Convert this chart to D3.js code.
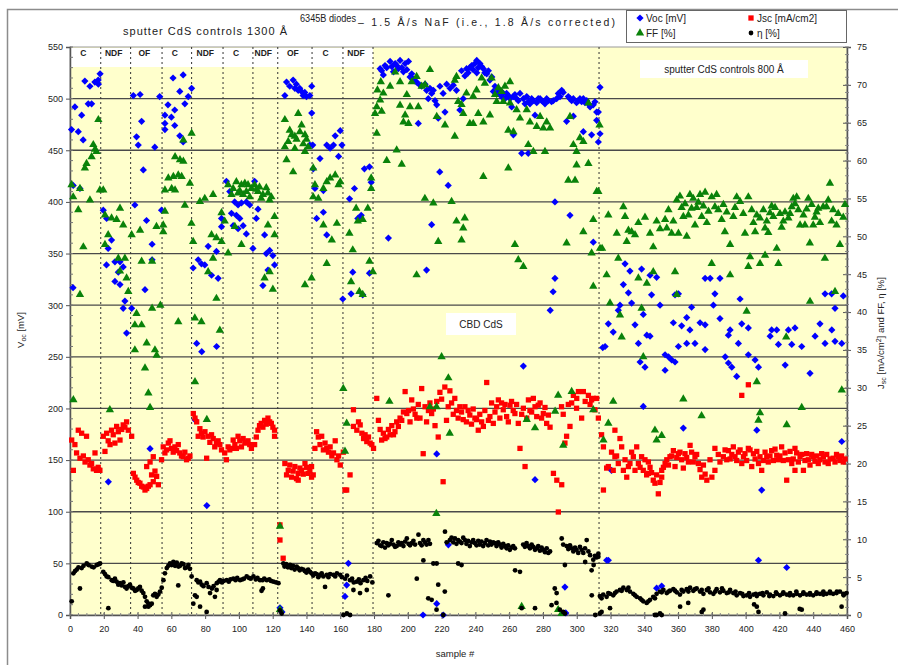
<!DOCTYPE html>
<html>
<head>
<meta charset="utf-8">
<script src="https://cdnjs.cloudflare.com/ajax/libs/d3/7.8.5/d3.min.js"></script>
<style>
  html, body { margin: 0; padding: 0; background: #fff; }
  svg { display: block; font-family: "Liberation Sans", Arial, sans-serif; }
</style>
</head>
<body>
<svg id="chart" width="898" height="665"></svg>
<script>
// ---- data: [sample #, value] ----
const vocData = [
  [0.9,470],[1.8,317],[1.9,416],[2.9,492],[4.9,468],[5.9,413],[6.9,484],[7.8,460],[8.8,517],[10.8,495],[11.8,512],[12.8,495],[14.7,516],[16.7,518],[16.8,514],[17.8,524],
  [19.7,392],[21.6,339],[21.7,384],[22.6,355],[22.7,129],[24.6,363],[26.6,342],[26.6,323],[28.6,332],[29.6,342],[29.6,320],[31.5,337],[31.5,297],[32.5,304],[33.5,273],
  [36.5,297],[37.5,503],[38.4,397],[39.4,463],[40.4,455],[41.5,504],[42.4,478],[43.4,431],[44.4,315],[45.3,382],[47.4,161],[48.6,359],[48.6,344],[50.2,453],
  [53.1,502],[54.2,392],[56.2,484],[56.2,476],[56.2,470],[58,494],[60,482],[61,520],[62,489],[62,474],[65,507],[65,464],[67,523],[67,458],[68,495],[70,502],[72,510],
  [72.9,336],[74,189],[75,263],[75.9,344],[77.8,340],[78,255],[79.8,339],[81,106],[81.8,357],[83.8,329],[86.7,352],[86.8,260],[87.7,326],[89.7,376],
  [89.7,384],[92.6,420],[94.6,410],[95.6,389],[96.6,377],[97.5,400],[98.5,387],[99.5,397],[99.5,374],[100.5,384],[101.5,399],[102.5,377],[104.4,400],[104.4,369],[106.4,397],[108.3,355],
  [109.3,420],[110.3,384],[111.3,393],[114.2,319],[115.2,368],[116.2,350],[117.2,334],[118.2,353],[120.1,348],[121.1,339],
  [124.3,7],[125.5,3],[127.2,503],[128.2,516],[130.1,512],[132.1,518],[133.1,510],[134,514],[135.1,508],[136,510],[137,507],[138,503],[139,506],[140,502],[142,503],[142,455],
  [143.1,512],[143.1,486],[143.7,455],[144,432],[145,413],[146,384],[148,442],[150,390],[150,411],[152,455],[152,368],[154,452],[156,455],[157,464],[159,444],[160,469],[161,455],
  [161.5,306],[162.8,18],[163.8,29],[164.8,50],[165.5,403],[166.4,311],[167.4,332],[168.4,413],[170.4,384],[172.4,387],[173.3,310],[174.3,432],[177.3,434],[177.3,331],[178.3,419],
  [183.6,529],[184.5,527],[185.5,523],[186.5,532],[187.5,530],[188.5,365],[189.5,536],[190.5,531],[191.5,526],[192.5,534],[193.4,532],[194.4,529],[195.4,537],[196.4,530],[197.4,526],[198.4,534],[199.4,528],
  [200.4,536],[201.3,521],[202.3,524],[203.3,519],[204.3,517],[205.2,516],[206.2,476],[207.2,513],[208.2,512],[209,0],[210.2,514],[211.1,334],[211.1,508],[212.1,500],[213.1,510],[214.1,378],[214.1,505],
  [215.1,508],[216.1,498],[217.1,494],[217.1,156],[217.1,11],[218,481],[218.9,429],[219,512],[220.9,505],[221,0],[222,487],[223,514],[223.9,416],[224,68],[225,510],[226.9,513],[228.8,508],
  [230.8,489],[231.8,527],[232.8,500],[233.8,522],[234.8,529],[235.7,525],[236.7,530],[237.8,532],[238.7,528],[239.7,534],[240.8,537],[240.8,525],[241.7,530],[242.7,534],[243.7,531],[244.7,529],
  [245.6,525],[246.7,524],[247.7,527],[248.6,518],[249.7,521],[250.6,507],[251.6,512],[252.6,505],[253.6,505],[254.5,508],[255.5,502],[256.6,505],[257.5,500],[258.5,505],[259.5,503],[260.5,500],
  [261.5,492],[262.5,502],[262.5,465],[263.4,504],[264.4,500],[265.4,498],[266.4,505],[267.4,447],[268.4,500],[268.4,241],[269.4,495],[270.4,502],[271.3,497],[271.3,447],[272.3,495],[273.3,500],
  [274.3,498],[275.3,484],[275.3,131],[276.3,496],[277.2,500],[278.3,500],[279.2,498],[280.2,497],[281.2,495],[282.2,500],[283.2,498],[284.3,295],[285.1,497],[286,313],[286.1,498],[287.1,400],
  [287.1,326],[288.1,500],[289.1,505],[290.1,502],[291.1,508],[292,506],[293,27],[293.5,2],[294,478],[295,502],[296,387],[296,500],[297,498],[298,500],[298,483],[299.9,496],[300.9,498],
  [301.9,500],[302.9,497],[303.9,500],[303.9,468],[304.9,496],[305.9,498],[306.9,495],[307.9,492],[308.8,465],[309.8,494],[309.8,361],[310.8,497],[311.8,487],[311.8,479],[312.8,487],[312.8,458],
  [313.8,511],[313.8,466],[315.4,259],[316.8,260],[317.7,53],[318.7,282],[318.7,53],[320.6,140],[321.6,274],[324.6,295],[325.6,300],[327.6,320],[328.6,340],[330.6,312],[331.5,333],[332.5,302],
  [334.5,281],[336.5,263],[337.5,245],[338.4,335],[339.4,291],[339.4,202],[340.4,240],[341.5,271],[343.4,329],[343.4,270],[344.3,310],[347.3,327],[347.3,26],[349.3,300],[350.3,28],[352.3,237],
  [352.3,252],[354.3,250],[356.2,247],[357.2,283],[358.2,310],[358.2,245],[360.2,311],[360.2,260],[362.1,280],[363.1,181],[365.1,288],[365.1,263],[367,276],[368,298],[370,263],[373,283],
  [376,326],[376,281],[376,257],[379,326],[380.9,300],[381.8,311],[384.8,326],[384.8,287],[387.9,250],[389.8,244],[389.8,271],[390.8,276],[391.8,240],[394.7,231],[395.7,263],[396.7,306],
  [397.7,282],[401.6,278],[401.6,252],[405.6,247],[406.6,179],[407.6,240],[407.6,53],[409.5,121],[414.5,270],[415.4,276],[418.4,276],[419.4,262],[423.4,242],[424.3,46],[425.3,276],[427.3,262],
  [429.2,278],[433.2,260],[438.1,234],[441.1,270],[444,282],[447,311],[447,263],[450.9,311],[451,276],[452.9,297],[452.9,265],[456.9,263],[456.9,168],[457.8,309]
];

const jscData = [
  [1,23.1],[2,19.1],[2.9,22.5],[3.9,21.4],[4.9,24.4],[5.9,20.7],[6.9,24],[7.9,21],[8.9,20.2],[9.8,23.6],[10.8,20.5],[11.8,19.8],[12.8,20],[13.8,19.3],[14.8,21.4],[15.7,19.1],[16.7,19.5],[17.7,19.1],
  [19.7,23.6],[20.7,21.6],[21.7,24],[22.6,23],[23.7,22.5],[24.6,24.4],[25.6,23.8],[26.6,22.7],[27.6,24.9],[28.6,24.2],[29.6,23.1],[30.6,24.5],[31.5,25.1],[32.5,24.8],[33.5,25.5],[34.5,24.4],[36.5,23.6],
  [37.5,18.7],[38.5,18.2],[39.5,17.8],[40.4,17.5],[41.4,17.4],[42.4,17],[43.4,16.9],[44.4,16.5],[45.4,16.7],[45.4,19.6],[46.4,17],[47.4,17.2],[47.4,20.2],[48.3,18.5],[49.3,17.6],[49.3,20.9],[50.3,19],[51.3,18.3],[52.3,17.2],
  [54.2,20.5],[55.2,22.2],[56.2,21.4],[57.2,21.8],[58.2,22.7],[59.2,23],[60.1,22],[61.1,21.5],[62.1,22.2],[63.1,21.7],[64.1,22.5],[65,21.4],[66,21],[67,20.9],[68,21.5],[69,20.5],[70,20.7],[71,21],
  [73,26.6],[74,26],[75,25.5],[75.9,23.6],[76.9,24.6],[77.8,24],[78.8,23.5],[79.9,24.2],[80.9,20.7],[81.8,23.6],[82.8,22.8],[83.8,23.8],[84.8,23.3],[85.7,22.2],[86.7,22.7],[87.7,23],[88.7,22.5],[89.7,21.8],
  [91.6,21.4],[92.6,20.5],[93.6,22.2],[94.6,21.8],[95.6,22],[96.6,23.1],[97.6,22.5],[98.5,22],[99.5,23.6],[100.5,23],[101.5,22.2],[102.5,23.3],[103.5,22.8],[104.4,22.7],[105.4,23],[106.4,22.5],[107.4,22],
  [109.3,22.5],[110.3,23.5],[111.3,24.4],[112.2,25],[113.2,25.3],[114.2,24.8],[115.2,25.7],[116.2,25.2],[117.2,26],[118.2,25.5],[119.2,25.3],[120.1,24.8],[121.1,24.4],[121.1,23.6],
  [124.3,11.9],[124.3,9.9],[126.2,7.5],[127.2,20],[128.2,18.5],[129.2,19.1],[130.1,19.8],[131.2,18.2],[132.1,19],[133.1,19.6],[134.1,18],[135.1,18.7],[135.1,17.8],[136.1,19.4],[137.1,19.1],[138.1,18.6],[139.1,20],[140,19.5],[141,18.7],[142,19],[143,18.2],
  [143,19.6],[144,18.5],[145,22],[146,24.2],[147,23.5],[148,22.5],[149,23.6],[150,21.8],[151,22.7],[152,22],[153,21.5],[154,22.2],[155,21],[156,21.4],[157,23],[158,20.5],[159,21],[160,19.8],[161.8,21.5],
  [162.8,16.5],[163.8,16.5],[165.8,18.5],[167.8,24.9],[167.8,27.1],[169.8,24.4],[170.8,25.5],[171.8,25.1],[172.8,24],[173.8,23.3],[174.7,23.8],[175.7,22.9],[176.7,23.5],[177.7,22.7],[178.7,22.5],[179.7,22],
  [181.6,28.6],[182.6,25.7],[183.6,24.5],[184.5,23.1],[185.5,24],[186.5,23.3],[187.5,23.5],[188.5,24.5],[189.5,23.8],[190.5,25],[191.5,23.8],[192.4,24.2],[193.4,25.5],[194.4,24.9],[195.4,26],[196.4,25.7],
  [197.4,26.8],[198.4,29.5],[199.4,26.6],[200.4,27],[201.3,25.5],[202.3,28.4],[203.3,27.2],[204.3,26.5],[205.3,26],[206.2,27.8],[207.2,26],[208.2,29.9],[209.1,21.3],[210.2,27.5],[211.1,25.5],[212.2,27],
  [213.1,28],[214.1,26.6],[215.1,27.2],[216.1,25],[217.1,28.2],[218,23.5],[219,29.4],[220,28.5],[220.9,17.6],[221.9,30.1],[222.9,25.7],[223.9,27.5],[224.9,29.6],[225.9,28],[226.9,26.5],[227.8,28.6],
  [228.8,27],[229.8,26],[230.8,27.5],[231.8,26.8],[232.8,25.8],[233.8,27.5],[234.7,25.5],[235.7,27],[236.7,26.4],[237.7,25.2],[238.7,27.2],[239.7,26],[240.7,25.8],[241.7,24.4],[242.6,26.5],[243.7,25.5],
  [244.7,24.9],[245.6,27],[246.7,30.7],[247.7,25.7],[248.6,26.2],[249.6,28],[250.6,25.3],[251.6,26.8],[252.6,27.5],[253.6,28.4],[254.5,26],[255.5,28],[256.5,27.1],[257.5,27.8],[258.5,26.2],[259.5,25.5],
  [260.5,27.7],[261.4,28.2],[262.4,27],[263.4,26.6],[264.4,27.8],[265.4,25.3],[266.4,22],[267.4,26.5],[268.4,27.3],[269.4,19.6],[270.4,26],[271.4,28.4],[272.3,27],[273.3,26.8],[274.3,28.6],[275.3,27.5],
  [276.3,26.2],[277.2,27.7],[278.3,28],[279.2,26],[280.2,26.6],[281.2,27.4],[282.2,25.3],[283.2,26.4],[284.2,24.8],[286.2,18.7],[288.2,17.8],[289.1,13.6],[291,27.5],[291.1,17.2],[292,26.5],[293,22.7],
  [294,23.6],[295,27.8],[296,24.9],[297,28],[298,29],[299.9,27.3],[300,28.6],[301,29.5],[302.9,26],[303.9,29.5],[305,28.2],[306.9,29],[307.9,27.8],[308.8,28.4],[309.8,28.6],[310.8,27.1],[311.8,28.6],[312.8,26],
  [314.7,23.8],[315.8,22.2],[315.8,16.5],[317.7,19.4],[318.7,19.6],[320.6,21.5],[321.6,19.1],[322.6,24.4],[322.6,20.9],[323.6,21],[324.6,20],[325.6,23.3],[326.6,22.2],[327.6,19.1],[328.6,20.5],[329.6,18.2],
  [330.6,19.6],[331.5,20],[332.5,21.5],[333.5,20.9],[334.5,19.1],[335.5,22.2],[336.5,20],[337.5,19.5],[338.4,20.9],[339.4,19.1],[340.4,20.5],[341.4,18.5],[342.4,18.7],[342.4,20.2],[343.4,19.5],[344.3,18.8],
  [345.3,17.8],[346.3,17.4],[347.3,18.5],[348.3,16],[349.3,17.5],[350.3,18.2],[350.3,19.1],[351.3,19.5],[352.3,20],[353.3,20.5],[354.3,19.8],[355.2,20.9],[356.2,21],[357.2,21.7],[358.2,19.6],[359.2,20.8],
  [360.2,21.3],[361.1,21.5],[362.1,20.5],[363.1,19.4],[364.1,21.3],[365.1,20.8],[366.1,20.2],[367.1,22.4],[368,21.5],[369,20.2],[370,20.9],[371,21.2],[372,20],[373,19.2],[374,18.2],[375,19.8],
  [376,18.6],[377,17.8],[378.9,20.5],[380,18.2],[381.8,19.1],[381.8,22],[383.8,21.2],[384.8,20.2],[386.8,20.9],[387.8,21.8],[388.8,20.5],[389.8,21.7],[390.8,20.6],[391.8,21.2],[392.7,22.2],[393.7,20.9],
  [394.7,20.4],[395.7,21.5],[396.7,21.8],[397.7,20],[397.7,29],[398.7,20.9],[399.6,21.3],[400.6,20.4],[401.6,22],[401.6,30.4],[402.6,21.8],[403.6,19.6],[404.6,21.3],[405.6,20.6],[406.6,21.6],[407.6,20],
  [408.5,20.9],[409.5,19.1],[410.5,20.4],[411.5,21.5],[412.5,20.9],[413.4,20.2],[414.4,21],[415.4,21.7],[416.4,20.4],[417.4,21.9],[418.4,21.1],[419.4,20.5],[420.3,21],[421.3,22.2],[422.3,20.4],[423.3,21.4],
  [424.3,17.8],[425.3,20.5],[426.3,21.6],[427.3,20],[428.2,20.6],[429.2,22],[429.2,19.1],[430.2,21.4],[431.2,20.2],[432.2,20.9],[433.2,21.2],[434.2,19.1],[435.1,20.4],[436.1,21.3],[437.1,20.5],[438.1,19.8],
  [439.1,21.2],[440,20.9],[441,20.3],[442,21],[443,20],[444,20.5],[445,21.3],[446,20.9],[447,20.2],[448,21.2],[448.9,20],[450,20.6],[451.8,20.7],[452.9,20.2],[453.8,21.2],[454.8,20.9],[455.8,20.4],
  [456.8,21],[457.8,20.2],[458.8,20.6]
];

const ffData = [
  [0.9,56.8],[1.9,55.2],[2,28.4],[4.9,53.5],[5.9,56.3],[5.9,42.3],[7.9,48.6],[8.8,59],[9.8,59.6],[11.8,54.8],[12.8,60.5],[13.8,62.1],[14.8,61.5],[15.7,61.2],[16.8,65.4],[17.7,56.1],
  [19.7,56.1],[20.7,52.8],[20.7,48.9],[22.6,50.2],[23.6,27.1],[24.6,52.4],[27.6,52.2],[28.6,47.1],[29.6,53.7],[29.6,45.4],[31.5,51.5],[32.5,47.1],[33.5,44.5],[34.5,42.7],
  [36.5,50.2],[38.4,38.3],[38.4,35],[39.4,39.8],[41.5,50.8],[42.4,38.3],[42.4,46.7],[44.4,32.6],[45.4,35.9],[46.4,29.3],[47.4,27.4],[48.6,40.5],[48.6,46.7],[50.3,35],[51.2,51.3],[51.3,34.3],[53.5,40.9],
  [55.2,51.5],[55.2,50.6],[56.2,56.1],[56.2,53.3],[58.2,57.7],[60.2,56.3],[61.2,57.9],[62.2,60.5],[62.2,56.1],[64.1,58.1],[64.1,38.7],[65.1,60.1],[66.1,57.9],[67.1,59.9],[67.1,62.7],[68,54.1],[71,57],[72,63.6],
  [71.9,51.7],[72.9,49.3],[73.9,39.2],[74,30.8],[76.9,54.6],[77.8,38.7],[79.8,55],[81,25.8],[81.8,45.3],[83.8,50.2],[84.7,55.5],[84.7,47.1],[86.7,49.8],[86.7,41.8],[88.7,37.6],[89.7,49.3],
  [89.7,53.1],[91.6,52],[93.6,56.8],[93.6,47.8],[95.6,55.5],[96.6,56.3],[97.6,51.3],[98.5,57.2],[99.5,55.7],[100.5,56],[101.5,56.8],[101.5,48.9],[102.5,55.5],[103.5,57],[104.4,55.9],[105.4,56.8],[106.4,55.2],[107.4,56.3],
  [109.3,56.8],[110.3,56.2],[111.3,55.9],[112.2,56.5],[113.2,55],[114.2,55.5],[115.2,44.5],[116.2,56.4],[117.2,55.7],[117.2,51.5],[118.2,54.8],[118.2,45.3],[119.2,55.2],[120.1,43],[121.1,52.6],[121.1,50.2],
  [124.3,11.7],[124.3,0.7],[127.2,65.4],[127.2,61.8],[128.2,60.1],[129.2,62.5],[130.1,64],[131.2,63.4],[132.1,58.5],[133.1,63.2],[133.1,61.6],[134.1,62.8],[135.1,66.2],[136.1,63.8],[137.1,64.7],[138.1,62.2],[139.1,63.4],[139.1,61.2],[139.1,43.6],[140,62.8],[141,61.8],
  [143,44.5],[144,59],[144,55.2],[145,56.8],[147,55],[150,56.3],[150,51.5],[152,57.2],[152,46.4],[154,57.7],[155,49.5],[157,58.1],[158,51.7],[159,56.8],[160,57.2],[161.8,29.9],
  [162.8,21.6],[163.8,25.3],[165.4,50.4],[166.4,44],[167.4,48.2],[169.4,53.7],[170.4,52],[171.3,42.7],[173.3,52.2],[173.3,42.3],[176.3,53.7],[177.3,46.7],[178.3,57.7],[178.3,56.3],[179.3,45.3],
  [180.6,66.2],[181.6,67.1],[181.6,63.6],[182,69.3],[183.6,68],[184,70.4],[184.5,66.5],[185.5,68.9],[187.5,60],[189.1,28.2],[189.5,69.8],[192.5,71.7],[193.4,61.4],[195.4,70.4],[195.4,67.3],[196.4,59.5],
  [197.4,65.1],[198.4,66],[199.4,68.7],[200.4,64.9],[201.3,67.1],[202.3,70.4],[205.2,71.1],[205.2,44.9],[206.2,67.1],[208.2,69.8],[210.1,55],[210.2,70],[213.1,72],[213.1,27.5],[215.1,54.4],[216.9,13.4],
  [217,27.5],[217.1,65.8],[218,49.3],[220,34.1],[222,64.7],[224,31.3],[224.8,24],[225.9,54.6],[227.8,70.6],[227.8,63.2],[228.8,71.1],[228.8,52],[229.8,67.8],[231.8,67.4],[231.8,49.5],[232.8,66.2],
  [232.8,51.1],[233.7,52.4],[234.7,68.9],[236.7,64.9],[238.7,68.5],[238.7,64.9],[240.7,69.3],[241.7,66.2],[243.7,70.9],[244.7,65.1],[244.7,57.9],[245.6,70.2],[248.6,66],[249.6,70.9],[251.6,68.7],[252.6,67.8],
  [253.6,69.6],[255.5,69.1],[256.5,67.8],[257.5,69.8],[259.5,64],[259.5,59],[260.5,70.4],[260.5,67.6],[262.5,63.8],[263.4,48.9],[264.4,66.7],[265.4,46.9],[266.4,65.6],[267.4,1.1],[268.4,46],[270.4,66.7],
  [270.4,25.8],[271.3,62.1],[272.3,65.1],[274.3,61.2],[275.3,24.7],[276.3,64.5],[278.3,65.8],[280.2,64.3],[281.2,61.2],[282.2,65.1],[284.2,64.3],[287.2,26.9],[289,29],[289,0.7],[291,0.2],[292,22.4],
  [294,49.1],[295,57.4],[296,65.8],[297,29.5],[298,62.1],[299,57.4],[299.9,61.2],[299.9,59.4],[301.9,63],[303.9,62.5],[303.9,50.6],[306.9,67.6],[306.9,59.6],[308.8,47.8],[309.8,52.2],[309.8,43.4],
  [309.8,27.1],[311.8,55.9],[312.8,55.9],[313.5,64.7],[313.8,48.4],[315,48.4],[315.8,23.1],[317.7,44.9],[318.7,52.8],[318.7,25.3],[319.7,41.2],[321.6,28.2],[323.7,50.4],[324.6,47.1],[325.6,39.6],[326.6,36.7],
  [327.6,53.9],[328.6,52.6],[329.6,49.3],[330.6,50.8],[332.5,50.6],[334.5,50.2],[336.5,44.5],[336.5,51.8],[338.4,40.5],[339.4,34.1],[340.4,52.5],[341.5,43.8],[343.4,50.4],[345.3,48.6],[345.3,45.3],[346.3,24.4],
  [347.3,52],[347.3,23.1],[349.3,51],[350.3,23.7],[352.3,52.2],[353.3,51.1],[354.3,53.5],[356.2,50.4],[357.2,52],[358.2,45.3],[359.2,54.8],[359.2,42.3],[360.2,50.4],[361.1,55.3],[362.1,53.8],[363.1,52.6],
  [363.1,28.5],[364.1,54.3],[365.1,50],[366.1,52.8],[367,55.5],[368,53.7],[369,55],[370,51.5],[371,53.8],[372,54.5],[373,55.5],[373.9,26.3],[374,52.6],[375,54],[376,55.8],[377,51.8],[378,53.3],[379.9,55.2],
  [379.9,46.4],[381.8,53.9],[382.8,55.5],[383.8,53.5],[385.8,52.2],[386.8,54.2],[387.7,50.6],[388.8,53.2],[390.8,48.9],[390.8,44.9],[392.7,52.6],[393.7,53.8],[394.7,55.2],[396.7,54.6],[398.6,53],[399.6,50.4],
  [400.6,40.1],[401.6,55.2],[401.6,46],[402.6,47.3],[403.6,53.5],[404.6,51.8],[405.6,50.6],[406.6,52.8],[406.6,30.8],[407.6,25.7],[408.5,52.4],[408.5,46.4],[408.5,26.7],[410.5,53.5],[411.5,51.1],[411.5,47.5],
  [412.5,52],[413.4,50.5],[414.4,53.1],[415.4,54],[416.4,52.6],[417.4,53.8],[418.4,48.4],[419.4,46.4],[420.3,53],[421.3,51.2],[422.3,52],[423.3,53.2],[424,36.7],[424.3,25.1],[425.3,52.4],[426.3,53],
  [427.3,53.9],[428.2,55],[429.2,54.3],[430.2,55.2],[431.2,53.5],[432.2,51.5],[433.2,27.4],[434.2,52.8],[435.1,51.5],[436.1,53.6],[437.1,55],[438,49.1],[438.1,41.4],[439.1,54.2],[440,51.5],[441,52.5],
  [442,53.2],[443,53.7],[444,51.8],[445.9,53.9],[446.9,47.1],[447.9,53.9],[448.9,54.8],[449.9,57],[450.9,52],[451.8,53.5],[452.9,42.7],[453.8,51.5],[454.8,53],[455.8,48.9],[456.9,29.7],[457.8,52.5],[458.8,54.2]
];

const etaData = [
  [1,1.8],[2,5.5],[3,5.8],[4,6.0],[5,6.3],[5.9,3.5],[6.9,6.2],[8,6.5],[9.9,6.8],[11,6.6],[12.8,6.4],[14,6.3],[15.8,6.6],[17,6.7],[17.8,6.8],
  [19.7,5.7],[20.7,5.4],[21.7,5.1],[22.7,5],[22.7,0.9],[24.7,4.6],[25.6,4.5],[26.6,4.8],[27.6,4.4],[28.6,4],[29.6,4.2],[30.6,3.9],[31.6,4.3],[32.6,3.7],[33.5,3.5],[34.5,3.8],[35.5,4.0],
  [36.5,3.6],[37.5,3.5],[38.5,3.2],[39.5,3.3],[40.4,3.5],[41.4,3.7],[42.4,3.2],[43.4,2.9],[44.4,2.4],[44.4,1.1],[45.4,1.8],[46.4,1.1],[46.4,1.5],[47.4,1.3],[48.4,1.5],[49.3,2.6],[50.3,2.8],[51.3,2.4],[52.3,2.7],[53.3,3.1],[54.3,3.6],
  [55.3,4.6],[56.2,5.5],[57.3,6.2],[58.2,6.5],[59.2,6.8],[60.2,6.6],[61.2,7.0],[62.2,6.5],[63.2,6.9],[64.1,3.9],[64.2,6.4],[65.1,6.5],[66.1,6.8],[67.1,6.7],[68.1,6.2],[69.1,6.3],[70.1,6.6],[71,6.1],
  [72,5.1],[73,1.5],[74,2.6],[75,4.6],[75,2.4],[76,4.3],[77,4.4],[77,1.1],[78,4],[79,3.8],[80.9,4.2],[80.9,0.4],[82,3.7],[82.9,2.9],[84,3.5],[85,3.8],[85.8,2.4],[86.8,3.3],[86.9,4.2],[88,4.4],[88.8,4.6],
  [90,4.3],[91,4.5],[92.8,4.6],[94,4.4],[95,4.7],[96.7,4.8],[98,4.6],[99,4.9],[100.7,4.6],[102,4.7],[103,4.8],[104.6,5.1],[106,4.9],[107,4.8],[108.6,5.1],[110,4.7],[111,4.9],[112.5,4.6],[113.4,3.2],
  [114,4.6],[114.2,3.5],[115,4.8],[116.5,4.6],[118,4.7],[119,4.5],[120.4,4.4],[122,4.3],[123.4,4.2],[124.3,0.6],[125.3,0.2],
  [126.3,6.8],[127,6.4],[128,6.7],[129,6.3],[130.3,6.6],[131,6.2],[132,6.5],[133,6],[134.2,6.4],[135,6.2],[136,5.9],[137,6.1],[138.2,6.0],[139,5.8],[140,5.6],[141,6],[142.1,5.7],
  [143,5.5],[144,5.2],[145.1,5.5],[146,5.4],[147,5],[148.1,5.3],[149,5.5],[150,5.1],[151,3.7],[152,5.3],[153,5],[154,5.4],[155.9,5.3],[157,5.1],[158,5.5],[159.9,5.3],[161,5],
  [161.9,0],[162.9,4.8],[163.9,0.2],[164,5.2],[165.8,4.6],[165.8,0],[167,4.8],[167.8,3.3],[168,4.3],[169.8,4.4],[171,4.7],[171.7,2.9],[172,4.2],[173.7,4.6],[175,4.9],[175.7,3.3],[176,4.5],[177.7,5.1],[179,4.3],
  [181.6,9.5],[182.6,9.8],[183.6,9.2],[184.5,9.1],[185.5,9.6],[186.5,8.9],[187.5,9.5],[188.5,9.2],[188.5,2.6],[189.5,9.4],[190.5,9.9],[191.5,9.3],[192.4,9],[193.4,9.1],[194.4,9.6],[195.4,9.3],[196.4,9.5],
  [197.4,9.1],[198.4,9.7],[199.4,10.1],[200.4,9.4],[201.3,9.2],[202.3,9.5],[203.3,9.8],[204.3,9.3],[205.3,4.8],[206.3,10.6],[207.2,9.5],[208.2,9.2],[209.2,9.9],[209.2,7.2],[210.2,9.6],[211.1,9.3],
  [212.2,9.9],[212.1,2.2],[213.1,9.4],[214.1,2],[215.1,6.8],[217.1,6.8],[217,0.7],[218,4],[221,0],[221.9,3.1],[222,11],[223,9.6],[224.9,9.9],[225.9,10.2],[226.9,9.6],[227.9,10.1],[228.8,9.4],
  [229.8,6.8],[229.8,9.9],[230.8,9.7],[231.8,6.6],[231.8,9.5],[232.8,10.2],[233.8,9.9],[234.7,9.4],[235.7,9.8],[236.7,9.1],[237.7,9.6],[238.7,9.9],[239.7,9.5],[240.7,9.2],[241.7,9.8],[242.6,9.3],
  [243.6,9.7],[244.6,9.1],[245.6,9.5],[246.6,9.9],[247.6,9.2],[248.6,9.7],[249.5,9.3],[250.5,9.6],[251.5,9.5],[252.5,9.1],[253.5,9.6],[254.5,9.3],[255.5,8.9],[256.5,9.4],[257.5,9.1],[258.5,8.8],
  [259.4,9.2],[260.4,8.6],[261.4,8.9],[262.4,9.1],[263.4,8.8],[263.5,5.9],[266.4,5.7],[267.4,0.9],[268.3,9.3],[269.3,9],[270.3,9.5],[271.3,9.1],[272.3,8.8],[273.3,9.3],[274.3,9],[275.3,8.6],[275.3,0.9],
  [276.3,8.8],[277.2,9.1],[278.2,8.5],[279.2,8.9],[280.2,8.6],[281.2,8.3],[282.2,8.8],[283.2,8.2],[284.2,8.4],[285.1,1.3],[287,3.5],[288,1.6],[288.1,2.9],[290,0.7],[291.1,10.1],[292,9.3],[292,0.4],
  [293,6.6],[293,0.2],[294,9.1],[295,8.7],[296,9.2],[297,8.8],[298,8.4],[299,8.9],[299.9,8.6],[300.9,8.2],[301.9,9],[302.9,8.6],[303.9,8.2],[304.9,8.8],[305,7.0],[305.9,9.9],[306.9,8.4],[307.9,7.9],
  [308.8,5.9],[308.9,2.6],[309.8,7.3],[310,6.6],[310.8,7.8],[311.8,7.6],[312.8,8.1],
  [311,0],[312.8,7.7],[313.7,2.5],[313.7,0.2],[314.7,2.2],[314.7,0.4],[315.7,2.7],[317.7,2.4],[318.7,2.9],[319.7,2.8],[319.7,0.9],[321.6,2.6],[322.6,2.9],[323.6,3.1],[325.6,3.3],[326.6,3.2],[327.6,3.6],
  [329.6,3.3],[330.6,3.6],[331.5,3.1],[333.5,2.8],[334.5,2.6],[335.5,2.4],[337.5,2.2],[338.4,2],[339.4,1.8],[341.4,1.6],[342.4,1.8],[343.4,2],[345.3,2.4],[346.3,2.2],[346.3,0],[347.3,2.8],[347.3,0],
  [349.3,3.1],[349.3,0.2],[350.3,3],[350.3,0],[351.3,3.3],[353.3,2.9],[354.3,3.1],[355.2,3.2],[357.2,3.4],[358.2,3.2],[359.2,3],[361.1,2.7],[361.2,1.1],[362.1,3.3],[363.1,3.1],[365.1,3.4],[366,1.6],
  [366.1,3.1],[367.1,3.6],[369,3.2],[370,3.4],[371,3.5],[373,3.1],[374,3.3],[374,0.4],[375,2.8],[375,0.7],[377,3.3],[378,3.5],[378.9,3],[380.9,2.8],[382,3.1],[382.8,3.4],[384.8,3],[386,3.5],
  [386.8,3.2],[388.8,2.9],[390,3],[390.8,3.3],[392.7,2.9],[394,3.1],[394.7,2.6],[396.7,2.9],[398,2.8],[398.7,2.5],[400.6,2.6],[402,2.9],[402.6,2.4],[404.6,2.7],[405,1.4],[406,2.8],[406.6,2.5],
  [406.6,1.1],[407.6,0.4],[408.5,2.8],[410,2.9],[410.5,2.6],[412.5,3],[414,2.5],[414.4,2.7],[416.4,2.5],[418,3],[418.4,2.8],[420.3,2.6],[422,2.8],[422.3,3],[423.3,0.2],[424.3,2.7],[426,2.6],
  [426.3,2.9],[428.2,2.6],[430,3.1],[430.2,2.8],[432,0.8],[432.2,2.6],[433.2,0.7],[434,2.8],[434.2,3],[436.1,2.7],[438,2.7],[438.1,2.9],[440,2.6],[442,3],[442,2.8],[444,2.8],[446,3.1],[446,2.7],
  [447.9,2.8],[449.9,3.1],[450,2.9],[451.8,2.8],[453.8,2.9],[454,3.1],[455.8,3.1],[456.8,1.1],[457.8,2.8],[458,2.6],[459.7,2.9]
];

// segment boundaries (sample #) and their labels along the top
const segBounds = [0, 18.2, 35.9, 54.5, 72, 90.6, 108.3, 123, 143.3, 161.6, 179.4];
const segLabels = ["C", "NDF", "OF", "C", "NDF", "C", "NDF", "OF", "C", "NDF"];
const extraDivider = 313.2;

const vocTicks = d3.range(0, 551, 50);
const rightTicks = d3.range(0, 76, 5);
const sampleTicks = d3.range(0, 461, 20);

// ---- layout ----
const svg = d3.select('#chart');
const L = 70, R = 847, T = 47, B = 615;

const x = d3.scaleLinear().domain([0, 460]).range([L, R]);
const yL = d3.scaleLinear().domain([0, 550]).range([B, T]);
const yR = d3.scaleLinear().domain([0, 75]).range([B, T]);

// Excel style diamond (as wide as it is tall)
const symbolRhomb = {
  draw(ctx, size) {
    const r = Math.sqrt(size / 2);
    ctx.moveTo(0, -r); ctx.lineTo(r, 0); ctx.lineTo(0, r); ctx.lineTo(-r, 0); ctx.closePath();
  }
};

// outer chart frame
svg.append('rect')
  .attr('x', 7.5).attr('y', 9.5).attr('width', 900).attr('height', 700)
  .attr('fill', '#fff').attr('stroke', '#8c8c8c').attr('stroke-width', 1.5);

// plot area
svg.append('rect')
  .attr('x', L).attr('y', T).attr('width', R - L).attr('height', B - T)
  .attr('fill', '#ffffcc').attr('stroke', '#999').attr('stroke-width', 1);

// white strip behind the segment labels
svg.append('rect')
  .attr('x', L + 1).attr('y', T + 1)
  .attr('width', x(segBounds[segBounds.length - 1]) - L - 1).attr('height', 19)
  .attr('fill', '#fff');

// horizontal gridlines at the Voc ticks
svg.append('g')
  .selectAll('line')
  .data(vocTicks.filter(v => v > 0 && v < 550))
  .join('line')
  .attr('x1', L).attr('x2', R)
  .attr('y1', d => yL(d)).attr('y2', d => yL(d))
  .attr('stroke', '#4a4a4a').attr('stroke-width', 1.3);

// dashed vertical dividers
svg.append('g')
  .selectAll('line')
  .data(segBounds.slice(1).concat([extraDivider]))
  .join('line')
  .attr('x1', d => x(d)).attr('x2', d => x(d))
  .attr('y1', T).attr('y2', B)
  .attr('stroke', '#333').attr('stroke-width', 1)
  .attr('stroke-dasharray', '2,3');

// segment labels
svg.append('g')
  .selectAll('text')
  .data(segLabels)
  .join('text')
  .attr('x', (d, i) => (x(segBounds[i]) + x(segBounds[i + 1])) / 2 - 2)
  .attr('y', 56)
  .attr('text-anchor', 'middle')
  .attr('font-size', 8.5)
  .attr('font-weight', 'bold')
  .attr('fill', '#222')
  .text(d => d);

// text boxes inside the plot
function labelBox(cx, cy, w, h, txt) {
  svg.append('rect').attr('x', cx - w / 2).attr('y', cy - h / 2).attr('width', w).attr('height', h).attr('fill', '#fff');
  svg.append('text').attr('x', cx).attr('y', cy + 3.5).attr('text-anchor', 'middle')
    .attr('font-size', 10).attr('fill', '#222').text(txt);
}
labelBox(724, 69, 168, 18, 'sputter CdS controls 800 Å');
labelBox(481, 324, 70, 22, 'CBD CdS');

// ---- axes ----
const axisFont = g => g.selectAll('text').attr('font-size', 9).attr('fill', '#222')
  .attr('font-family', '"Liberation Sans", Arial, sans-serif');

const leftAxis = svg.append('g').attr('transform', `translate(${L},0)`)
  .call(d3.axisLeft(yL).tickValues(vocTicks).tickSize(4).tickPadding(3).tickFormat(d3.format('d')));
leftAxis.call(axisFont);
leftAxis.select('.domain').attr('stroke', '#555').attr('stroke-width', 1.5);
leftAxis.selectAll('.tick line').attr('stroke', '#555');
svg.append('g').selectAll('line').data(d3.range(0, 551, 10))
  .join('line').attr('x1', L).attr('x2', L + 3)
  .attr('y1', d => yL(d)).attr('y2', d => yL(d)).attr('stroke', '#777');

const rightAxis = svg.append('g').attr('transform', `translate(${R},0)`)
  .call(d3.axisRight(yR).tickValues(rightTicks).tickSize(4).tickPadding(6).tickFormat(d3.format('d')));
rightAxis.call(axisFont);
rightAxis.select('.domain').attr('stroke', '#555').attr('stroke-width', 1.5);
rightAxis.selectAll('.tick line').attr('stroke', '#555').attr('x1', -4);
svg.append('g').selectAll('line').data(d3.range(0, 76, 1))
  .join('line').attr('x1', R - 2).attr('x2', R + 2)
  .attr('y1', d => yR(d)).attr('y2', d => yR(d)).attr('stroke', '#888');

const bottomAxis = svg.append('g').attr('transform', `translate(0,${B})`)
  .call(d3.axisBottom(x).tickValues(sampleTicks).tickSize(4).tickPadding(7).tickFormat(d3.format('d')));
bottomAxis.call(axisFont);
bottomAxis.select('.domain').attr('stroke', '#555').attr('stroke-width', 1.5);
bottomAxis.selectAll('.tick line').attr('stroke', '#555').attr('y1', -3);
svg.append('g').selectAll('line').data(d3.range(0, 461, 5))
  .join('line').attr('x1', d => x(d)).attr('x2', d => x(d))
  .attr('y1', B - 2).attr('y2', B + 1).attr('stroke', '#888');

// axis titles
const leftTitle = svg.append('text')
  .attr('transform', 'translate(24,330) rotate(-90)')
  .attr('text-anchor', 'middle').attr('font-size', 9.5).attr('fill', '#222');
leftTitle.append('tspan').text('V');
leftTitle.append('tspan').attr('font-size', 7).attr('dy', 2).text('oc');
leftTitle.append('tspan').attr('dy', -2).text(' [mV]');

const rightTitle = svg.append('text')
  .attr('transform', 'translate(884,333) rotate(-90)')
  .attr('text-anchor', 'middle').attr('font-size', 9.5).attr('fill', '#222');
rightTitle.append('tspan').text('J');
rightTitle.append('tspan').attr('font-size', 7).attr('dy', 2).text('sc');
rightTitle.append('tspan').attr('dy', -2).text(' [mA/cm');
rightTitle.append('tspan').attr('font-size', 7).attr('dy', -3).text('2');
rightTitle.append('tspan').attr('dy', 3).text('] and FF, η [%]');

svg.append('text').attr('x', 455).attr('y', 657).attr('text-anchor', 'middle')
  .attr('font-size', 9.5).attr('fill', '#222').text('sample #');

// titles above the plot
svg.append('text').attr('x', 205).attr('y', 35).attr('text-anchor', 'middle')
  .attr('font-size', 11).attr('fill', '#222')
  .attr('textLength', 164).attr('lengthAdjust', 'spacing')
  .text('sputter CdS controls 1300 Å');
svg.append('text').attr('x', 300).attr('y', 22).attr('font-size', 10).attr('fill', '#222')
  .attr('textLength', 56).attr('lengthAdjust', 'spacingAndGlyphs')
  .text('6345B diodes');
svg.append('text').attr('x', 358).attr('y', 26).attr('font-size', 10.5).attr('fill', '#222')
  .attr('textLength', 257).attr('lengthAdjust', 'spacing')
  .text('– 1.5 Å/s NaF (i.e., 1.8 Å/s corrected)');

// ---- series ----
const series = [
  { name: 'Voc [mV]', data: vocData, scale: yL, type: symbolRhomb, size: 26, color: '#0000ff' },
  { name: 'Jsc [mA/cm2]', data: jscData, scale: yR, type: d3.symbolSquare, size: 28, color: '#ff0000' },
  { name: 'FF [%]', data: ffData, scale: yR, type: d3.symbolTriangle, size: 30, color: '#0a820a' },
  { name: 'η [%]', data: etaData, scale: yR, type: d3.symbolCircle, size: 18, color: '#000000' }
];

series.forEach(s => {
  svg.append('g')
    .selectAll('path')
    .data(s.data)
    .join('path')
    .attr('transform', d => `translate(${x(d[0])},${s.scale(d[1])})`)
    .attr('d', d3.symbol().type(s.type).size(s.size))
    .attr('fill', s.color);
});

// ---- legend ----
const legend = svg.append('g');
legend.append('rect').attr('x', 626.5).attr('y', 10.5).attr('width', 220).attr('height', 32)
  .attr('fill', '#fff').attr('stroke', '#666').attr('stroke-width', 1);
const legendPos = [[640, 18], [751, 18], [640, 33], [751, 33]];
series.forEach((s, i) => {
  const [lx, ly] = legendPos[i];
  legend.append('path').attr('transform', `translate(${lx},${ly})`)
    .attr('d', d3.symbol().type(s.type).size(s.size)).attr('fill', s.color);
  legend.append('text').attr('x', lx + 6).attr('y', ly + 3.5)
    .attr('font-size', 10).attr('fill', '#222').text(s.name);
});
</script>
</body>
</html>
